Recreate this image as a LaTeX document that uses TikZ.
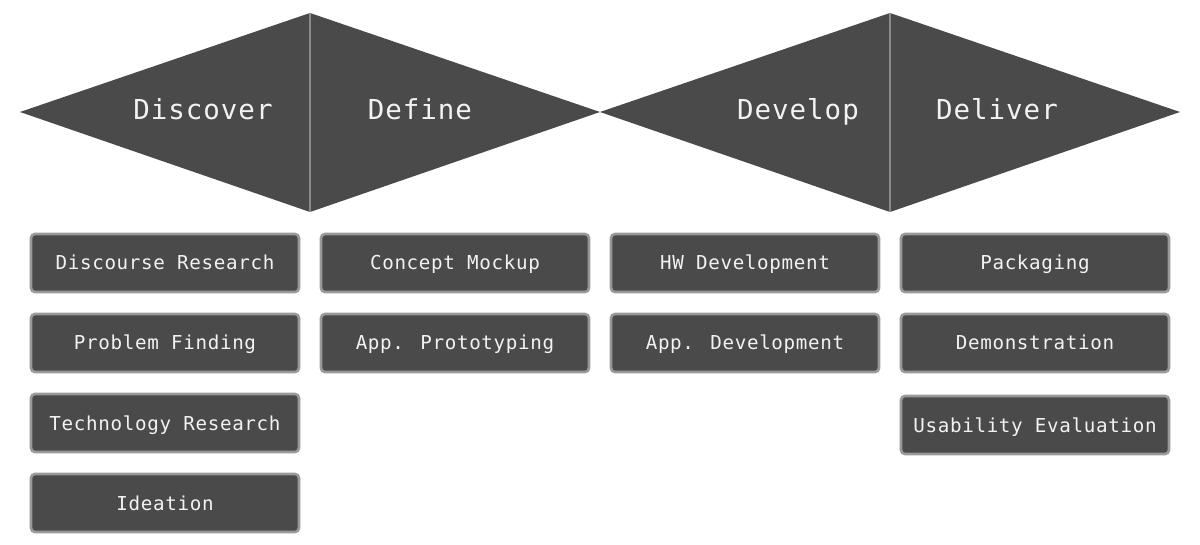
\documentclass[tikz,border=0pt]{standalone}
\usepackage{fontspec}
\newfontfamily\dmono[LetterSpace=3.5]{DejaVu Sans Mono}
\definecolor{darkfill}{HTML}{4A4A4A}
\definecolor{edgegray}{HTML}{999999}
\definecolor{splitgray}{HTML}{8A8A8A}
\definecolor{txt}{HTML}{F2F2F2}
\begin{document}
\begin{tikzpicture}[x=1pt,y=-1pt,
  tri/.style={fill=darkfill,draw=none},
  head/.style={text=txt,font=\dmono\fontsize{27.5}{30}\selectfont,inner sep=0pt,text height=20pt,text depth=0pt},
  box/.style={rectangle,rounded corners=4pt,fill=darkfill,draw=edgegray,line width=2.6pt,
    minimum width=268pt,minimum height=58pt,text=txt,font=\dmono\fontsize{19.2}{22}\selectfont,inner sep=0pt,text height=14pt,text depth=0pt}]
\useasboundingbox (0,0) rectangle (1200,545);
\coordinate (l1) at (20,112);
\coordinate (t1) at (310,13);
\coordinate (b1) at (310,212);
\coordinate (m) at (600,112);
\coordinate (t2) at (890,13);
\coordinate (b2) at (890,212);
\coordinate (r2) at (1180,112);
\fill[tri] (l1) -- (t1) -- (b1) -- cycle;
\fill[tri] (t1) -- (m) -- (b1) -- cycle;
\fill[tri] (m) -- (t2) -- (b2) -- cycle;
\fill[tri] (t2) -- (r2) -- (b2) -- cycle;
\draw[splitgray,line width=1.5pt] (t1) -- (b1);
\draw[splitgray,line width=1.5pt] (t2) -- (b2);
\node[head] (hdisc) at (203,110) {Discover};
\node[head] (hdef) at (420,110) {Define};
\node[head] (hdev) at (798,110) {Develop};
\node[head] (hdel) at (997,110) {Deliver};
\node[box] (a1) at (165,263) {Discourse Research};
\node[box] (a2) at (165,343) {Problem Finding};
\node[box] (a3) at (165,423) {Technology Research};
\node[box] (a4) at (165,503) {Ideation};
\node[box] (b1n) at (455,263) {Concept Mockup};
\node[box] (b2n) at (455,343) {App. Prototyping};
\node[box] (c1) at (745,263) {HW Development};
\node[box] (c2) at (745,343) {App. Development};
\node[box] (d1) at (1035,263) {Packaging};
\node[box] (d2) at (1035,343) {Demonstration};
\node[box] (d3) at (1035,425) {Usability Evaluation};
\end{tikzpicture}
\end{document}
